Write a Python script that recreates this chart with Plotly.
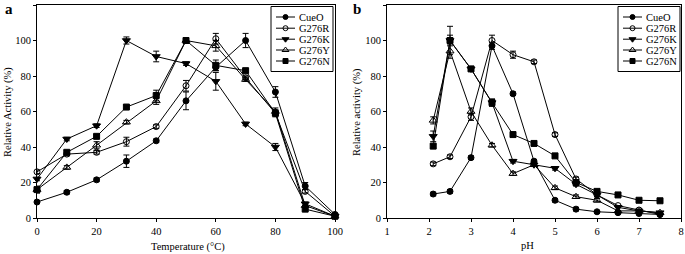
import plotly.graph_objects as go

series_names = ["CueO", "G276R", "G276K", "G276Y", "G276N"]

temperature = [0, 10, 20, 30, 40, 50, 60, 70, 80, 90, 100]
temp_CueO = [9, 14.5, 21.5, 32, 43.5, 66, 85, 100, 71, 18, 2]
temp_G276R = [26, 36, 37, 43, 51.5, 74.5, 101, 79, 59, 15, 1]
temp_G276K = [22, 44.5, 52, 100, 91, 87, 77, 53, 40, 8, 1]
temp_G276Y = [16, 28.5, 41, 54, 66, 100, 97, 78, 60, 7, 1]
temp_G276N = [16, 37, 46, 62.5, 69, 100, 86, 83, 59, 5, 1]
temp_err_CueO = [0, 1, 1, 3.5, 1, 5, 2, 4, 3, 2, 0]
temp_err_G276R = [1, 1, 1, 2.5, 1, 3, 3, 1, 2, 1, 0]
temp_err_G276K = [1, 1, 1, 2, 3, 1, 5, 1, 2, 1, 0]
temp_err_G276Y = [2, 1, 2, 1, 2, 1, 3, 1, 2, 1, 0]
temp_err_G276N = [1, 1, 1, 1, 3, 1, 3, 1, 1, 1, 0]

ph = [2.1, 2.5, 3, 3.5, 4, 4.5, 5, 5.5, 6, 6.5, 7, 7.5]
ph_CueO = [13.5, 15, 34, 97, 70, 32, 10, 5, 3.5, 3, 2.5, 2]
ph_G276R = [30.5, 34.5, 57, 100, 92, 88, 47, 22, 13, 7, 4.5, 2]
ph_G276K = [46, 100, 84, 65, 32, 30, 28, 19, 13, 6, 4, 3]
ph_G276Y = [55, 94, 60, 41, 25, 30, 17, 12, 10, 4, 4, 3]
ph_G276N = [40.5, 100, 84, 65, 47, 42, 35, 20, 15, 13, 10, 9.7]
ph_err_CueO = [1, 1, 1, 2, 1, 1, 1, 1, 0, 0, 0, 0]
ph_err_G276R = [1, 1, 2, 3, 2, 1, 1, 1, 1, 0, 0, 0]
ph_err_G276K = [3, 8, 1, 2, 1, 1, 1, 1, 1, 0, 0, 0]
ph_err_G276Y = [2, 4, 2, 1, 1, 1, 1, 1, 1, 0, 0, 0]
ph_err_G276N = [1, 3, 1, 2, 1, 1, 1, 1, 1, 0, 0, 0]

temp_ticks = [0, 20, 40, 60, 80, 100]
ph_ticks = [1, 2, 3, 4, 5, 6, 7, 8]
y_ticks = [0, 20, 40, 60, 80, 100, 120]

symbols = ["circle", "circle-open", "triangle-down", "triangle-up-open", "square"]
msizes = [6, 6, 7, 7, 6]

temp_vals = [temp_CueO, temp_G276R, temp_G276K, temp_G276Y, temp_G276N]
temp_errs = [temp_err_CueO, temp_err_G276R, temp_err_G276K, temp_err_G276Y, temp_err_G276N]
ph_vals = [ph_CueO, ph_G276R, ph_G276K, ph_G276Y, ph_G276N]
ph_errs = [ph_err_CueO, ph_err_G276R, ph_err_G276K, ph_err_G276Y, ph_err_G276N]

FONT = "Liberation Serif"
W, H = 685, 254
L, R, T, B = 37, 681, 5, 218  # plot-area pixel box (whole figure)
PW, PH = R - L, B - T


def fx(p):
    return (p - L) / PW


def fy(p):
    return (B - p) / PH


fig = go.Figure()


def add_series(x, vals, errs, xa, ya):
    for i, name in enumerate(series_names):
        fig.add_trace(go.Scatter(
            x=x, y=vals[i], name=name, mode="lines+markers",
            line=dict(color="black", width=1),
            marker=dict(symbol=symbols[i], size=msizes[i], color="black",
                        line=dict(color="black", width=1)),
            error_y=dict(type="data", array=errs[i], visible=True,
                         color="black", thickness=1, width=3),
            xaxis=xa, yaxis=ya, showlegend=False, cliponaxis=False))


add_series(temperature, temp_vals, temp_errs, "x", "y")
add_series(ph, ph_vals, ph_errs, "x2", "y2")

# Legend drawn on an invisible overlay axis measured in figure pixels
legend_boxes = [  # (left, right, top, bottom) in pixels
    (271, 333, 6.5, 71.5),
    (618, 680, 6.5, 71.5),
]
legend_rows = [17, 28.2, 39.2, 50, 61]
for (lx0, lx1, ly0, ly1) in legend_boxes:
    fig.add_shape(type="rect", xref="x3", yref="y3", x0=lx0, x1=lx1, y0=ly0, y1=ly1,
                  line=dict(color="black", width=1), fillcolor="white", layer="below")
    for i, name in enumerate(series_names):
        yy = legend_rows[i]
        fig.add_trace(go.Scatter(
            x=[lx0 + 5, lx0 + 24], y=[yy, yy], mode="lines",
            line=dict(color="black", width=1), xaxis="x3", yaxis="y3",
            showlegend=False, hoverinfo="skip"))
        fig.add_trace(go.Scatter(
            x=[lx0 + 14.5], y=[yy], mode="markers",
            marker=dict(symbol=symbols[i], size=msizes[i] - 1, color="black",
                        line=dict(color="black", width=1)),
            xaxis="x3", yaxis="y3", showlegend=False, hoverinfo="skip"))
        fig.add_annotation(text=name, x=lx0 + 26, y=yy, xref="x3", yref="y3",
                           xanchor="left", yanchor="middle", showarrow=False,
                           font=dict(family=FONT, size=10.5, color="black"))

axis_common = dict(showline=True, linecolor="black", linewidth=1, mirror=True,
                   ticks="outside", ticklen=3, tickcolor="black",
                   showgrid=False, zeroline=False, automargin=False,
                   tickfont=dict(family=FONT, size=10.5, color="black"))

fig.update_layout(
    width=W, height=H,
    margin=dict(l=L, r=W - R, t=T, b=H - B, pad=0),
    paper_bgcolor="white", plot_bgcolor="rgba(0,0,0,0)",
    font=dict(family=FONT, size=10.5, color="black"),
    showlegend=False,
    hovermode=False,
    xaxis=dict(domain=[fx(37), fx(335)], range=[0, 100], tickvals=temp_ticks,
               anchor="y", **axis_common),
    yaxis=dict(domain=[0, 1], range=[0, 120], tickvals=y_ticks, anchor="x",
               **axis_common),
    xaxis2=dict(domain=[fx(387), fx(681)], range=[1, 8], tickvals=ph_ticks,
                anchor="y2", **axis_common),
    yaxis2=dict(domain=[0, 1], range=[0, 120], tickvals=y_ticks, anchor="x2",
                **axis_common),
    xaxis3=dict(domain=[0, 1], range=[L, R], visible=False, anchor="y3",
                automargin=False),
    yaxis3=dict(domain=[0, 1], range=[B, T], visible=False, anchor="x3",
                automargin=False),
)

annotations = [
    dict(text="<b>a</b>", x=fx(3), y=fy(9), xref="paper", yref="paper",
         xanchor="left", yanchor="middle", showarrow=False,
         font=dict(family=FONT, size=15)),
    dict(text="<b>b</b>", x=fx(351), y=fy(9), xref="paper", yref="paper",
         xanchor="left", yanchor="middle", showarrow=False,
         font=dict(family=FONT, size=15)),
    dict(text="Temperature (\u00b0C)", x=fx(188), y=fy(247), xref="paper", yref="paper",
         xanchor="center", yanchor="middle", showarrow=False,
         font=dict(family=FONT, size=10.5)),
    dict(text="pH", x=fx(527), y=fy(245), xref="paper", yref="paper",
         xanchor="center", yanchor="middle", showarrow=False,
         font=dict(family=FONT, size=10.5)),
    dict(text="Relative Activity (%)", x=fx(8), y=fy(112), xref="paper", yref="paper",
         xanchor="center", yanchor="middle", showarrow=False, textangle=-90,
         font=dict(family=FONT, size=10.5)),
    dict(text="Relative activity (%)", x=fx(357), y=fy(112), xref="paper", yref="paper",
         xanchor="center", yanchor="middle", showarrow=False, textangle=-90,
         font=dict(family=FONT, size=10.5)),
]
for a in annotations:
    fig.add_annotation(**a)

fig.write_html("out.html",
               config={"displayModeBar": False, "staticPlot": True},
               post_script="document.body.style.margin='0px';"
                           "document.body.style.overflow='hidden';")
